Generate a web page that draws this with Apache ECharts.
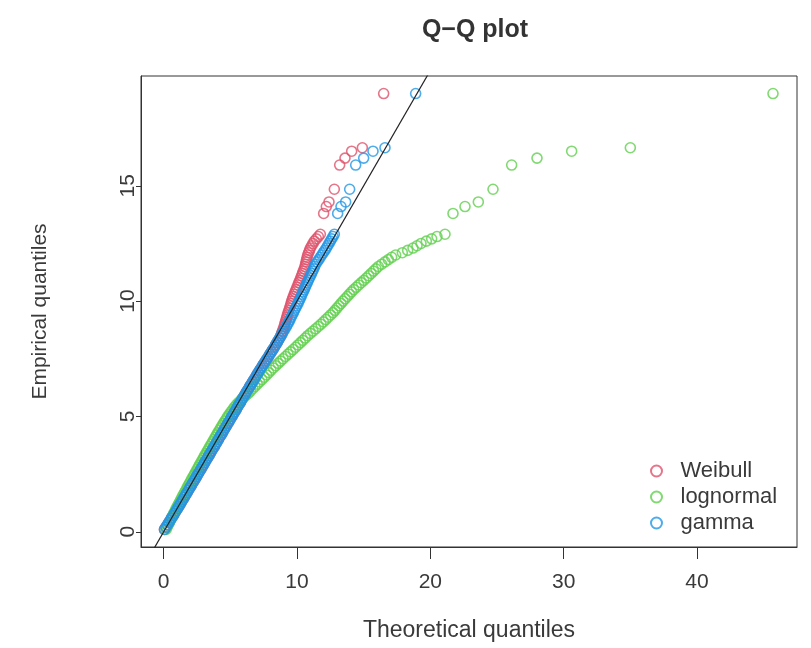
<!DOCTYPE html>
<html>
<head>
<meta charset="utf-8">
<title>Q-Q plot</title>
<script src="https://cdn.jsdelivr.net/npm/echarts/dist/echarts.min.js"></script>
<style>
    html, body { margin: 0; padding: 0; background: #fff; }
    #qqChart { width: 811px; height: 648px; }
</style>
</head>
<body>
<div id="qqChart"></div>
<script>
// sorted sample (shared by the three distributions)
var empirical = [
    0.1, 0.2, 0.3, 0.4, 0.5, 0.6, 0.7, 0.8, 0.9, 1.0,
    1.1, 1.2, 1.3, 1.4, 1.5, 1.6, 1.7, 1.8, 1.9, 2.0,
    2.1, 2.2, 2.3, 2.4, 2.5, 2.6, 2.7, 2.8, 2.9, 3.0,
    3.1, 3.2, 3.3, 3.4, 3.5, 3.6, 3.7, 3.8, 3.9, 4.0,
    4.1, 4.2, 4.3, 4.4, 4.5, 4.6, 4.7, 4.8, 4.9, 5.0,
    5.1, 5.2, 5.3, 5.4, 5.5, 5.6, 5.7, 5.8, 5.9, 6.0,
    6.1, 6.2, 6.3, 6.4, 6.5, 6.6, 6.7, 6.8, 6.9, 7.0,
    7.1, 7.2, 7.3, 7.4, 7.5, 7.6, 7.7, 7.8, 7.9, 8.0,
    8.1, 8.2, 8.3, 8.4, 8.5, 8.6, 8.7, 8.8, 8.9, 9.0,
    9.1, 9.2, 9.3, 9.4, 9.5, 9.6, 9.7, 9.8, 9.9, 10.0,
    10.1, 10.2, 10.3, 10.4, 10.5, 10.6, 10.7, 10.8, 10.9, 11.0,
    11.1, 11.2, 11.3, 11.4, 11.5, 11.6, 11.7, 11.8, 11.9, 12.0,
    12.1, 12.2, 12.3, 12.4, 12.5, 12.6, 12.7, 12.8, 12.9,
    13.8, 14.1, 14.3, 14.85, 15.9, 16.2, 16.5, 16.65, 19.0
];
// theoretical quantiles, one list per fitted distribution
var weibullQ = [
    0.06, 0.17, 0.28, 0.39, 0.49, 0.60, 0.71, 0.82, 0.92, 1.03,
    1.13, 1.24, 1.34, 1.44, 1.55, 1.65, 1.75, 1.86, 1.96, 2.06,
    2.16, 2.27, 2.37, 2.47, 2.57, 2.67, 2.78, 2.88, 2.98, 3.08,
    3.18, 3.29, 3.39, 3.49, 3.59, 3.69, 3.80, 3.90, 4.00, 4.10,
    4.20, 4.31, 4.41, 4.51, 4.61, 4.71, 4.82, 4.92, 5.02, 5.12,
    5.22, 5.33, 5.43, 5.53, 5.63, 5.74, 5.84, 5.94, 6.05, 6.15,
    6.25, 6.36, 6.46, 6.57, 6.67, 6.78, 6.88, 6.99, 7.09, 7.20,
    7.31, 7.42, 7.53, 7.64, 7.75, 7.86, 7.97, 8.08, 8.19, 8.30,
    8.40, 8.50, 8.60, 8.70, 8.80, 8.84, 8.91, 8.97, 9.03, 9.08,
    9.13, 9.18, 9.23, 9.28, 9.33, 9.39, 9.45, 9.50, 9.55, 9.60,
    9.66, 9.72, 9.79, 9.86, 9.93, 10.00, 10.07, 10.14, 10.21, 10.28,
    10.34, 10.41, 10.47, 10.54, 10.60, 10.64, 10.68, 10.72, 10.76, 10.80,
    10.87, 10.94, 11.00, 11.10, 11.20, 11.30, 11.45, 11.60, 11.75,
    12.00, 12.20, 12.40, 12.80, 13.20, 13.60, 14.10, 14.90, 16.50
];
var lognormalQ = [
    0.18, 0.26, 0.34, 0.43, 0.51, 0.59, 0.68, 0.76, 0.85, 0.93,
    1.02, 1.11, 1.20, 1.29, 1.38, 1.47, 1.56, 1.66, 1.75, 1.84,
    1.93, 2.03, 2.12, 2.22, 2.31, 2.41, 2.50, 2.60, 2.69, 2.79,
    2.89, 2.98, 3.08, 3.18, 3.27, 3.37, 3.47, 3.57, 3.67, 3.77,
    3.87, 3.97, 4.07, 4.17, 4.27, 4.38, 4.48, 4.59, 4.70, 4.81,
    4.93, 5.05, 5.18, 5.31, 5.45, 5.61, 5.78, 5.96, 6.15, 6.34,
    6.51, 6.68, 6.85, 7.02, 7.19, 7.37, 7.55, 7.72, 7.88, 8.05,
    8.23, 8.41, 8.59, 8.77, 8.95, 9.14, 9.33, 9.52, 9.71, 9.90,
    10.08, 10.26, 10.44, 10.62, 10.80, 11.00, 11.20, 11.40, 11.60, 11.80,
    11.98, 12.16, 12.34, 12.52, 12.70, 12.85, 13.00, 13.15, 13.30, 13.45,
    13.61, 13.77, 13.93, 14.09, 14.25, 14.44, 14.63, 14.82, 15.01, 15.20,
    15.38, 15.56, 15.74, 15.92, 16.10, 16.35, 16.60, 16.85, 17.10, 17.40,
    17.90, 18.30, 18.70, 19.00, 19.30, 19.70, 20.10, 20.50, 21.10,
    21.70, 22.60, 23.60, 24.70, 26.10, 28.00, 30.60, 35.00, 45.70
];
var gammaQ = [
    0.06, 0.17, 0.28, 0.39, 0.49, 0.60, 0.71, 0.82, 0.92, 1.03,
    1.13, 1.24, 1.34, 1.44, 1.55, 1.65, 1.75, 1.86, 1.96, 2.06,
    2.16, 2.27, 2.37, 2.47, 2.57, 2.67, 2.78, 2.88, 2.98, 3.08,
    3.18, 3.29, 3.39, 3.49, 3.59, 3.69, 3.80, 3.90, 4.00, 4.10,
    4.20, 4.31, 4.41, 4.51, 4.61, 4.71, 4.82, 4.92, 5.02, 5.12,
    5.22, 5.33, 5.43, 5.53, 5.63, 5.74, 5.84, 5.94, 6.05, 6.15,
    6.25, 6.36, 6.46, 6.57, 6.67, 6.78, 6.88, 6.99, 7.09, 7.20,
    7.31, 7.42, 7.53, 7.64, 7.75, 7.86, 7.97, 8.08, 8.19, 8.30,
    8.40, 8.50, 8.60, 8.70, 8.80, 8.90, 9.00, 9.10, 9.20, 9.30,
    9.39, 9.47, 9.56, 9.64, 9.73, 9.81, 9.90, 9.98, 10.07, 10.15,
    10.23, 10.31, 10.38, 10.46, 10.54, 10.62, 10.69, 10.77, 10.85, 10.93,
    11.01, 11.09, 11.17, 11.25, 11.32, 11.40, 11.51, 11.63, 11.74, 11.86,
    11.97, 12.09, 12.20, 12.30, 12.40, 12.50, 12.60, 12.70, 12.80,
    13.05, 13.30, 13.65, 13.95, 14.40, 15.00, 15.70, 16.60, 18.90
];
var seriesNames = ['Weibull', 'lognormal', 'gamma'];
var seriesColors = ['#DF536B', '#61D04F', '#2297E6'];
var xTicks = [0, 10, 20, 30, 40];
var yTicks = [0, 5, 10, 15];
var xRange = [-1.7, 47.5];
var yRange = [-0.66, 19.76];
// reference line y = a + b x
var refLine = { intercept: 0, slope: 1 };

var fontFamily = '"Liberation Sans", Arial, Helvetica, sans-serif';
var textColor = '#3a3a3a';

function pairUp(xs, ys) {
    var out = [];
    for (var i = 0; i < xs.length; i++) {
        out.push([xs[i], ys[i]]);
    }
    return out;
}

var qqData = [weibullQ, lognormalQ, gammaQ];
var series = [];
for (var k = 0; k < seriesNames.length; k++) {
    series.push({
        name: seriesNames[k],
        type: 'scatter',
        symbol: 'circle',
        symbolSize: 10,
        itemStyle: {
            color: 'rgba(0,0,0,0)',
            borderColor: seriesColors[k],
            borderWidth: 1.6
        },
        emphasis: { disabled: true },
        data: pairUp(qqData[k], empirical)
    });
}
// fitted line drawn on top of the points, like abline()
series.push({
    name: 'y = x',
    type: 'line',
    symbol: 'none',
    silent: true,
    clip: true,
    z: 5,
    lineStyle: { color: '#222', width: 1.2 },
    data: [
        [xRange[0], refLine.intercept + refLine.slope * xRange[0]],
        [xRange[1], refLine.intercept + refLine.slope * xRange[1]]
    ]
});

var option = {
    animation: false,
    backgroundColor: '#fff',
    textStyle: { fontFamily: fontFamily },
    title: {
        text: 'Q\u2212Q plot',
        left: 470,
        top: 13,
        textAlign: 'center',
        textStyle: { fontSize: 25, fontWeight: 'bold', color: '#333', fontFamily: fontFamily }
    },
    grid: {
        left: 141,
        top: 76,
        width: 656,
        height: 471,
        show: true,
        borderColor: '#333',
        borderWidth: 1
    },
    legend: {
        data: seriesNames,
        orient: 'vertical',
        left: 645,
        top: 455,
        itemWidth: 38,
        itemHeight: 11,
        itemGap: 4,
        icon: 'circle',
        textStyle: { fontSize: 22, color: textColor, fontFamily: fontFamily }
    },
    xAxis: {
        type: 'value',
        min: xRange[0],
        max: xRange[1],
        name: 'Theoretical quantiles',
        nameLocation: 'middle',
        nameGap: 72,
        nameTextStyle: { fontSize: 23, color: textColor, fontFamily: fontFamily },
        splitLine: { show: false },
        axisLine: { show: true, onZero: false, lineStyle: { color: '#333' } },
        axisTick: { show: true, inside: false, length: 12, customValues: xTicks, lineStyle: { color: '#333' } },
        axisLabel: { customValues: xTicks, margin: 25, fontSize: 21, color: textColor, fontFamily: fontFamily }
    },
    yAxis: {
        type: 'value',
        min: yRange[0],
        max: yRange[1],
        name: 'Empirical quantiles',
        nameLocation: 'middle',
        nameGap: 90,
        nameRotate: 90,
        nameTextStyle: { fontSize: 21, color: textColor, fontFamily: fontFamily },
        splitLine: { show: false },
        axisLine: { show: true, onZero: false, lineStyle: { color: '#333' } },
        axisTick: { show: true, inside: false, length: 5, customValues: yTicks, lineStyle: { color: '#333' } },
        axisLabel: { customValues: yTicks, rotate: 90, margin: 2, fontSize: 21, color: textColor, fontFamily: fontFamily }
    },
    series: series
};

var myChart = echarts.init(document.getElementById('qqChart'));
myChart.setOption(option);
</script>
</body>
</html>
